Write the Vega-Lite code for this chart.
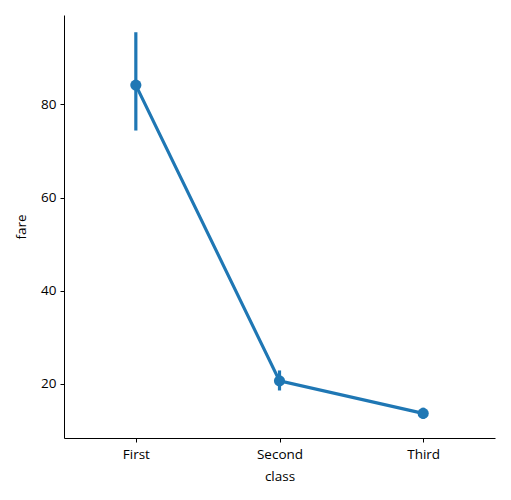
{
  "$schema": "https://vega.github.io/schema/vega-lite/v6.json",
  "width": 431,
  "height": 423,
  "autosize": "none",
  "padding": {"left": 64, "top": 15, "right": 16, "bottom": 62},
  "data": {"values": [
    {"class": "First", "fare": 84.15, "lo": 74.4, "hi": 95.5},
    {"class": "Second", "fare": 20.66, "lo": 18.6, "hi": 22.9},
    {"class": "Third", "fare": 13.68, "lo": 12.5, "hi": 14.9}
  ]},
  "config": {
    "view": {"stroke": null},
    "font": "Open Sans",
    "axis": {
      "grid": false,
      "domainColor": "black",
      "domainWidth": 1,
      "tickColor": "black",
      "tickSize": 4,
      "tickWidth": 1,
      "labelColor": "black",
      "labelFontSize": 13.5,
      "titleFontSize": 13.5,
      "titleFontWeight": "normal",
      "titleColor": "black",
      "labelFont": "Open Sans",
      "titleFont": "Open Sans"
    }
  },
  "encoding": {
    "x": {
      "field": "class", "type": "nominal",
      "scale": {"type": "point", "padding": 0.5},
      "axis": {"labelAngle": 0, "title": "class", "labelPadding": 5, "titlePadding": 9}
    }
  },
  "layer": [
    {
      "mark": {"type": "rule", "color": "#1f77b4", "strokeWidth": 3.2},
      "encoding": {
        "y": {"field": "lo", "type": "quantitative"},
        "y2": {"field": "hi"}
      }
    },
    {
      "mark": {"type": "line", "color": "#1f77b4", "strokeWidth": 3.2},
      "encoding": {
        "y": {"field": "fare", "type": "quantitative",
          "scale": {"domain": [8.4, 99.2], "nice": false, "zero": false},
          "axis": {"values": [20, 40, 60, 80], "title": "fare", "labelPadding": 4, "titlePadding": 12}}
      }
    },
    {
      "mark": {"type": "point", "filled": true, "opacity": 1, "color": "#1f77b4", "size": 125},
      "encoding": {
        "y": {"field": "fare", "type": "quantitative"}
      }
    }
  ]
}
